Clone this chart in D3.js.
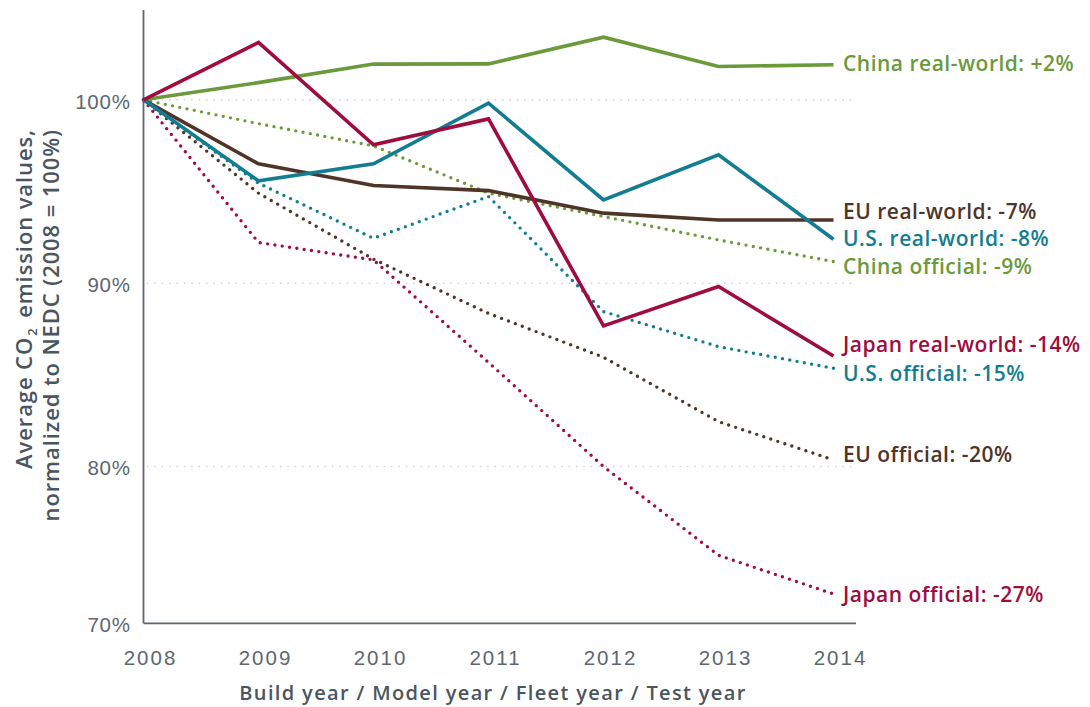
<!DOCTYPE html>
<html>
<head>
<meta charset="utf-8">
<script src="https://cdn.jsdelivr.net/npm/d3@7"></script>
<style>
  html, body { margin: 0; padding: 0; background: #fff; }
  svg { display: block; font-family: "Open Sans", "Noto Sans", sans-serif; }
</style>
</head>
<body>
<svg id="chart" width="1090" height="707"></svg>
<script>
// Years on the horizontal axis
const years = [2008, 2009, 2010, 2011, 2012, 2013, 2014];

// CO2 emission values, normalized to the 2008 NEDC value (= 100%)
const chinaReal     = [100, 100.94, 101.95, 101.96, 103.42, 101.82, 101.91];
const chinaOfficial = [100, 98.7, 97.49, 94.91, 93.64, 92.36, 91.18];
const euReal        = [100, 96.51, 95.33, 95.05, 93.82, 93.45, 93.45];
const euOfficial    = [100, 94.91, 91.31, 88.35, 85.96, 82.45, 80.36];
const usReal        = [100, 95.58, 96.51, 99.82, 94.54, 97.0, 92.4];
const usOfficial    = [100, 95.45, 92.45, 94.73, 88.45, 86.54, 85.36];
const japanReal     = [100, 103.13, 97.55, 98.96, 87.67, 89.82, 86.03];
const japanOfficial = [100, 92.22, 91.27, 85.68, 80.0, 75.16, 73.05];

// Y tick values (percent)
const yTicks = [100, 90, 80, 70];

const colors = {
  china: "#6a9a3b",
  eu: "#4f3428",
  us: "#127d92",
  japan: "#9e0c40"
};

// Series definitions: dotted (official) drawn first, solid (real-world) on top
const series = [
  { name: "China official",   values: chinaOfficial, color: colors.china, dotted: true,  nudge: 12 },
  { name: "EU official",      values: euOfficial,    color: colors.eu,    dotted: true,  nudge: 2 },
  { name: "U.S. official",    values: usOfficial,    color: colors.us,    dotted: true,  nudge: 13 },
  { name: "Japan official",   values: japanOfficial, color: colors.japan, dotted: true,  nudge: 8 },
  { name: "China real-world", values: chinaReal,     color: colors.china, dotted: false, nudge: 6 },
  { name: "EU real-world",    values: euReal,        color: colors.eu,    dotted: false, nudge: -1 },
  { name: "U.S. real-world",  values: usReal,        color: colors.us,    dotted: false, nudge: 7 },
  { name: "Japan real-world", values: japanReal,     color: colors.japan, dotted: false, nudge: -4 }
];

const svg = d3.select("#chart");

const plotLeft = 143.5, plotRight = 856, plotTop = 10, plotBottom = 623.3;

const x = d3.scaleLinear().domain([2008, 2014]).range([plotLeft, 833.5]);
// The bottom tick is pinned to the axis line by clamping
const y = d3.scaleLinear().domain([71.45, 104.9]).range([plotBottom, plotTop]).clamp(true);

const axisGrey = "#5d6770";
const titleGrey = "#4a5560";

// Dotted gridlines
svg.append("g")
  .selectAll("line")
  .data(yTicks.filter(t => t !== 70))
  .join("line")
  .attr("x1", plotLeft + 4)
  .attr("x2", plotRight)
  .attr("y1", d => y(d))
  .attr("y2", d => y(d))
  .attr("stroke", "#cccccc")
  .attr("stroke-width", 1.6)
  .attr("stroke-linecap", "round")
  .attr("stroke-dasharray", "0.1 7.3");

// Y axis
const yAxis = d3.axisLeft(y).tickValues(yTicks).tickSize(0).tickPadding(12.7)
  .tickFormat(d => d + "%");
const gy = svg.append("g").attr("transform", `translate(${plotLeft},0)`).call(yAxis);
gy.select(".domain").remove();
gy.selectAll("text")
  .attr("font-size", 20.5)
  .attr("letter-spacing", 0.8)
  .attr("fill", axisGrey)
  .attr("dy", "0.4em");

// X axis
const xAxis = d3.axisBottom(x).tickValues(years).tickSize(0)
  .tickFormat(d3.format("d"));
const gx = svg.append("g").attr("transform", `translate(0,${plotBottom})`).call(xAxis);
gx.select(".domain").remove();
gx.selectAll("text")
  .attr("font-size", 20.5)
  .attr("letter-spacing", 2)
  .attr("fill", axisGrey)
  .attr("y", 41.7)
  .attr("dy", 0)
  .attr("dx", 6.5);

// Axis lines
svg.append("line")
  .attr("x1", plotLeft).attr("x2", plotLeft)
  .attr("y1", plotTop).attr("y2", plotBottom)
  .attr("stroke", axisGrey).attr("stroke-width", 1.8);
svg.append("line")
  .attr("x1", plotLeft).attr("x2", plotRight)
  .attr("y1", plotBottom).attr("y2", plotBottom)
  .attr("stroke", axisGrey).attr("stroke-width", 1.8);

// Lines
const line = d3.line()
  .x((d, i) => x(years[i]))
  .y(d => y(d));

svg.append("g")
  .selectAll("path")
  .data(series)
  .join("path")
  .attr("d", d => line(d.values))
  .attr("fill", "none")
  .attr("stroke", d => d.color)
  .attr("stroke-width", d => d.dotted ? 3.4 : 3.6)
  .attr("stroke-linecap", d => d.dotted ? "round" : "butt")
  .attr("stroke-linejoin", "miter")
  .attr("stroke-dasharray", d => d.dotted ? "0 7.4" : null);

// End-of-line labels, text built from the final value
const pct = v => {
  const c = Math.round(v - 100);
  return (c > 0 ? "+" : c < 0 ? "-" : "") + Math.abs(c) + "%";
};
svg.append("g")
  .selectAll("text")
  .data(series)
  .join("text")
  .attr("x", 843)
  .attr("y", d => y(d.values[d.values.length - 1]) + d.nudge)
  .attr("font-size", 21)
  .attr("letter-spacing", 0.5)
  .attr("font-weight", 600)
  .attr("fill", d => d.color)
  .text(d => `${d.name}: ${pct(d.values[d.values.length - 1])}`);

// X axis title
svg.append("text")
  .attr("x", 493)
  .attr("y", 700)
  .attr("text-anchor", "middle")
  .attr("font-size", 20)
  .attr("letter-spacing", 1.35)
  .attr("font-weight", 600)
  .attr("fill", titleGrey)
  .text("Build year / Model year / Fleet year / Test year");

// Y axis title (two lines, rotated, aligned at the top end)
const yt = svg.append("text")
  .attr("transform", "translate(32,129) rotate(-90)")
  .attr("text-anchor", "end")
  .attr("font-size", 22)
  .attr("letter-spacing", 0.9)
  .attr("font-weight", 600)
  .attr("fill", titleGrey);
const l1 = yt.append("tspan").attr("x", 0).attr("y", 0);
l1.append("tspan").text("Average CO");
l1.append("tspan").attr("font-size", 13).attr("dy", 5).attr("dx", 1).text("2");
l1.append("tspan").attr("dy", -5).attr("dx", 3).text(" emission values,");
yt.append("tspan").attr("x", 0).attr("y", 27).text("normalized to NEDC (2008 = 100%)");
</script>
</body>
</html>
